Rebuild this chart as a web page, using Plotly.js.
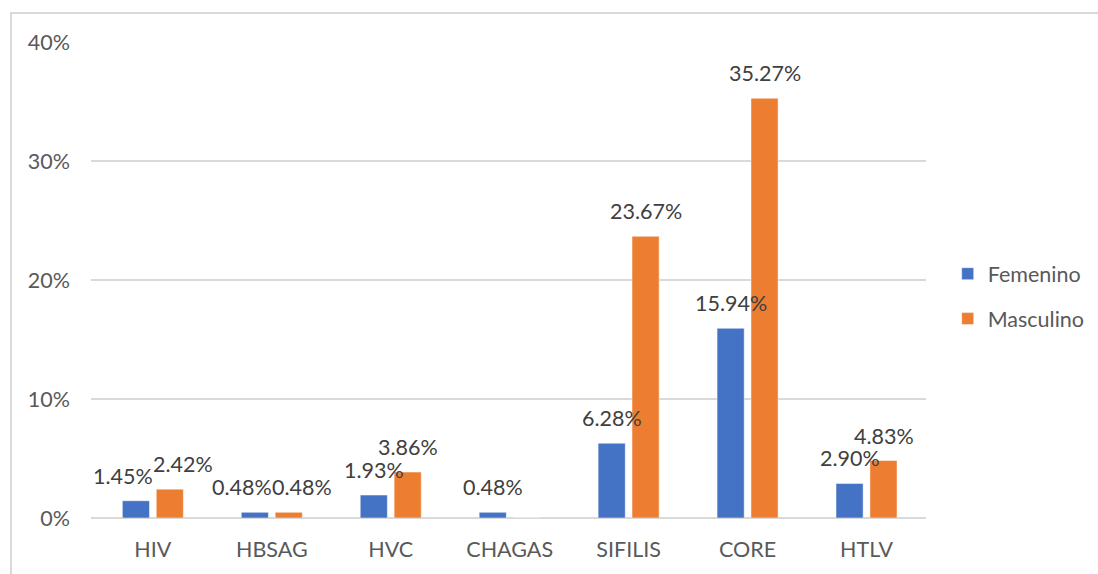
<!DOCTYPE html>
<html>
<head>
<meta charset="utf-8">
<script src="https://cdn.plot.ly/plotly-3.0.1.min.js"></script>
<style>
  html, body { margin: 0; padding: 0; background: #fff; }
  #wrap { position: relative; width: 1098px; height: 574px; overflow: hidden; }
  #chart { position: absolute; left: 0; top: 0; width: 1098px; height: 574px; }
  #frame { position: absolute; left: 10px; top: 12px; width: 1200px; height: 700px;
           border-top: 2px solid #d9d9d9; border-left: 2px solid #d9d9d9; pointer-events: none; }
</style>
</head>
<body>
<div id="wrap">
  <div id="chart"></div>
  <div id="frame"></div>
</div>
<script>
const categories = ["HIV", "HBSAG", "HVC", "CHAGAS", "SIFILIS", "CORE", "HTLV"];
const femenino = [1.45, 0.48, 1.93, 0.48, 6.28, 15.94, 2.90];
const masculino = [2.42, 0.48, 3.86, 0, 23.67, 35.27, 4.83];
const seriesNames = ["Femenino", "Masculino"];
const yTicks = [0, 10, 20, 30, 40];

const colors = ["#4472C4", "#ED7D31"];
const series = [femenino, masculino];

const W = 1098, H = 574;
const margin = { l: 91, r: 172, t: 42, b: 56, pad: 0, autoexpand: false };
const yMax = 40;
const bargap = 0.43, bargroupgap = 0.2;
const font = "Lato, 'Open Sans', sans-serif";
const fs = 21.5;

const traces = series.map((vals, i) => ({
  type: "bar",
  name: seriesNames[i],
  x: categories,
  y: vals,
  legendgroup: "g" + i,
  marker: { color: colors[i], line: { color: "rgba(255,255,255,0.6)", width: 0.8 } },
  hoverinfo: "x+y"
}));

// data labels above bars, placed via axis scales; labels that would collide are nudged apart
const canvas = document.createElement("canvas");
const ctx = canvas.getContext("2d");
ctx.font = fs + "px Lato";
const catPx = (W - margin.l - margin.r) / categories.length;
const slotPx = (1 - bargap) * catPx / series.length;
const pxPerUnit = (H - margin.t - margin.b) / yMax;
const annotations = [];
categories.forEach((cat, j) => {
  const labels = [];
  series.forEach((vals, i) => {
    const v = vals[j];
    if (v > 0) {
      const text = v.toFixed(2) + "%";
      labels.push({ i, v, text, w: ctx.measureText(text).width,
                    shift: (i - (series.length - 1) / 2) * slotPx });
    }
  });
  if (labels.length === 2) {
    const [a, b] = labels;
    const dy = Math.abs(a.v - b.v) * pxPerUnit;
    const need = (a.w + b.w) / 2;
    const have = b.shift - a.shift;
    if (dy < fs * 0.7 && have < need) {
      const extra = (need - have) / 2;
      a.shift -= extra; b.shift += extra;
    }
  }
  labels.forEach(l => annotations.push({
    x: cat, y: l.v, xref: "x", yref: "y",
    text: l.text,
    showarrow: false, xshift: l.shift, yshift: 25,
    xanchor: "center", yanchor: "middle",
    font: { family: font, size: fs, color: "#404040" }
  }));
});

const layout = {
  width: W, height: H,
  margin: margin,
  paper_bgcolor: "#ffffff",
  plot_bgcolor: "#ffffff",
  barmode: "group",
  bargap: bargap,
  bargroupgap: bargroupgap,
  font: { family: font, size: fs, color: "#595959" },
  xaxis: {
    type: "category",
    showgrid: false,
    showline: false,
    zeroline: false,
    ticks: "",
    ticklabelstandoff: 16,
    tickfont: { family: font, size: fs, color: "#595959" },
    automargin: false
  },
  yaxis: {
    range: [0, yMax],
    tickvals: yTicks,
    ticktext: yTicks.map(t => t + "%"),
    showgrid: true,
    gridcolor: "#d9d9d9",
    gridwidth: 1.3,
    zeroline: true,
    zerolinecolor: "#d9d9d9",
    zerolinewidth: 1.3,
    showline: false,
    ticks: "",
    ticklabelstandoff: 20,
    tickfont: { family: font, size: fs, color: "#595959" },
    automargin: false,
    fixedrange: true
  },
  showlegend: true,
  legend: {
    x: 1.026, xanchor: "left",
    y: 0.466, yanchor: "middle",
    traceorder: "grouped",
    tracegroupgap: 14,
    font: { family: font, size: fs, color: "#595959" },
    bgcolor: "rgba(0,0,0,0)"
  },
  annotations: annotations
};

Plotly.newPlot("chart", traces, layout, { displayModeBar: false, staticPlot: true });
</script>
</body>
</html>
